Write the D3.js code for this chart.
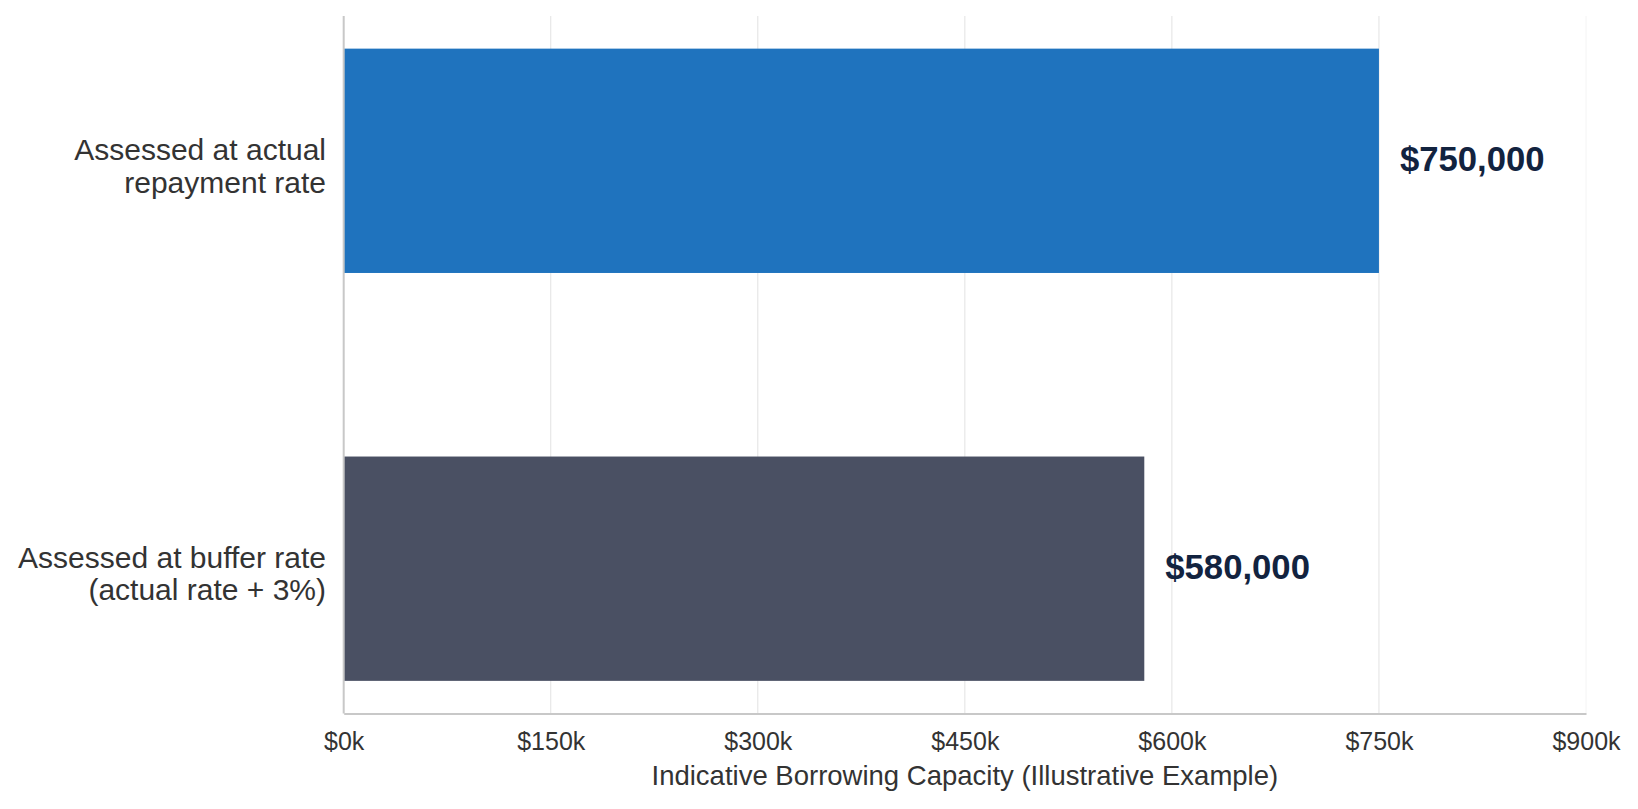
<!DOCTYPE html>
<html>
<head>
<meta charset="utf-8">
<script src="https://cdn.jsdelivr.net/npm/d3@7"></script>
<style>
  body { margin: 0; background: #fff; }
  text { font-family: "Liberation Sans", Arial, sans-serif; }
</style>
</head>
<body>
<div id="wrapper"></div>
<script>
// data
const categories = [
  ["Assessed at actual", "repayment rate"],
  ["Assessed at buffer rate", "(actual rate + 3%)"],
]
const values = [750000, 580000]
const barColors = ["#1f73be", "#4a5063"]
const tickValues = [0, 150000, 300000, 450000, 600000, 750000, 900000]
const xLabel = "Indicative Borrowing Capacity (Illustrative Example)"

const rows = values.map((v, i) => ({ label: categories[i], value: v, color: barColors[i] }))

// dimensions
let dimensions = {
  width: 1638,
  height: 809,
  margin: { top: 16, right: 52, bottom: 95.5, left: 343.7 },
}
dimensions.boundedWidth = dimensions.width - dimensions.margin.left - dimensions.margin.right
dimensions.boundedHeight = dimensions.height - dimensions.margin.top - dimensions.margin.bottom

const svg = d3.select("#wrapper").append("svg")
  .attr("width", dimensions.width)
  .attr("height", dimensions.height)

const bounds = svg.append("g")
  .attr("transform", `translate(${dimensions.margin.left},${dimensions.margin.top})`)

// scales
const xScale = d3.scaleLinear()
  .domain([0, 900000])
  .range([0, dimensions.boundedWidth])

const yScale = d3.scaleBand()
  .domain(d3.range(rows.length))
  .range([0, dimensions.boundedHeight])
  .paddingInner(0.45)
  .paddingOuter(0.08)

// grid
bounds.append("g")
  .selectAll("line")
  .data(tickValues.slice(1))
  .join("line")
    .attr("x1", d => xScale(d))
    .attr("x2", d => xScale(d))
    .attr("y1", 0)
    .attr("y2", dimensions.boundedHeight)
    .attr("stroke", d => d === 900000 ? "#f4f4f4" : "#e2e2e2")
    .attr("stroke-width", 1)

// bars
bounds.selectAll("rect.bar")
  .data(rows)
  .join("rect")
    .attr("class", "bar")
    .attr("x", 0)
    .attr("y", (d, i) => yScale(i))
    .attr("width", d => xScale(d.value))
    .attr("height", yScale.bandwidth())
    .attr("fill", d => d.color)

// value labels
const fmt = d3.format("$,")
bounds.selectAll("text.value")
  .data(rows)
  .join("text")
    .attr("class", "value")
    .attr("x", d => xScale(d.value) + 21)
    .attr("y", (d, i) => yScale(i) + yScale.bandwidth() / 2 - 2)
    .attr("dy", "0.35em")
    .attr("fill", "#12233f")
    .style("font-size", "34.7px")
    .style("font-weight", "bold")
    .text(d => fmt(d.value))

// x axis
const xAxisGenerator = d3.axisBottom(xScale)
  .tickValues(tickValues)
  .tickSize(0)
  .tickPadding(19)
  .tickFormat(d => `$${d / 1000}k`)

const xAxis = bounds.append("g")
  .attr("transform", `translate(0,${dimensions.boundedHeight})`)
  .call(xAxisGenerator)
xAxis.select(".domain").attr("stroke", "#c8c8c8").attr("stroke-width", 2)
xAxis.selectAll(".tick text")
  .attr("fill", "#333")
  .style("font-size", "25px")
  .style("font-family", "'Liberation Sans', Arial, sans-serif")

xAxis.append("text")
  .attr("x", dimensions.boundedWidth / 2)
  .attr("y", 71)
  .attr("fill", "#333")
  .style("text-anchor", "middle")
  .style("font-size", "27.5px")
  .style("font-family", "'Liberation Sans', Arial, sans-serif")
  .text(xLabel)

// y spine
bounds.append("line")
  .attr("x1", 0).attr("x2", 0)
  .attr("y1", 0).attr("y2", dimensions.boundedHeight)
  .attr("stroke", "#c8c8c8")
  .attr("stroke-width", 2)

// category labels
const lineHeight = 32.5
const labelSize = 30
bounds.selectAll("text.cat")
  .data(rows)
  .join("text")
    .attr("class", "cat")
    .attr("fill", "#333")
    .style("font-size", labelSize + "px")
    .style("text-anchor", "end")
    .each(function(d, i) {
      const cy = yScale(i) + yScale.bandwidth() / 2 + 5
      const n = d.label.length
      d3.select(this).selectAll("tspan")
        .data(d.label)
        .join("tspan")
          .attr("x", -17.7)
          .attr("y", (t, j) => cy + (j - (n - 1) / 2) * lineHeight + 0.35 * labelSize)
          .text(t => t)
    })
</script>
</body>
</html>
